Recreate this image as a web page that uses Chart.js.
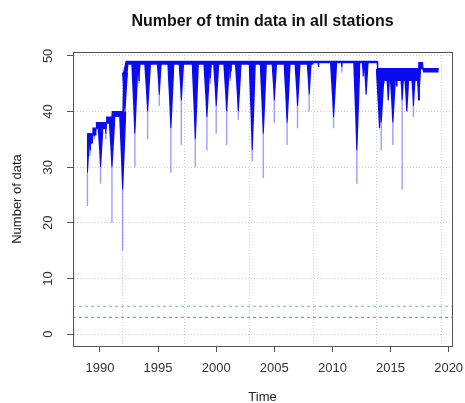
<!DOCTYPE html>
<html>
<head>
<meta charset="utf-8">
<script src="https://cdn.jsdelivr.net/npm/chart.js@4"></script>
<style>
  html, body { margin: 0; padding: 0; background: #fff; }
  #wrap { width: 465px; height: 403px; }
</style>
</head>
<body>
<div id="wrap"><canvas id="chart"></canvas></div>
<script>
// axis ticks and grid positions
const xTickYears = [1990, 1995, 2000, 2005, 2010, 2015, 2020];
const yTickValues = [0, 10, 20, 30, 40, 50];
const gridYears = [1991.95, 1997.3, 2002.85, 2008.4, 2013.8, 2019.4];

// upper level of the station count and bottom of the dense band under it
const levelYears = [1988.88, 1989.38, 1989.4, 1989.68, 1989.7, 1990.55, 1990.58, 1991.03, 1991.06, 1991.98,
                    1992.04, 1992.25, 1992.45, 2008.3, 2008.4, 2013.85, 2013.88, 2013.92, 2017.4, 2017.44,
                    2017.75, 2017.8, 2019.15];
const levelTop = [36, 36, 37, 37, 38, 38, 39, 39, 40, 40,
                  47, 49, 49, 49, 49, 49, 49, 47.7, 47.7, 48.8,
                  48.8, 47.7, 47.7];
const levelFloor = [33.8, 34.3, 35.7, 35.7, 36.8, 36.8, 37.8, 37.8, 39, 39,
                    39.5, 44, 48.4, 48.4, 48.7, 48.7, 47, 45.5, 45.5, 47.6,
                    47.6, 47, 47];

// drops in the count: where the solid part ends and the lowest value reached
const dipYears = [1988.92, 1989.15, 1989.5, 1990.05, 1990.5, 1991.03, 1991.95, 1992.15, 1993.0, 1993.35,
                  1994.1, 1995.1, 1996.1, 1997.0, 1998.2, 1999.2, 1999.5, 2000.0, 2000.9, 2001.2,
                  2001.9, 2003.1, 2004.05, 2005.0, 2006.1, 2007.0, 2008.0, 2008.8, 2010.1, 2010.8,
                  2012.1, 2012.65, 2012.9, 2014.05, 2014.2, 2014.4, 2014.8, 2015.2, 2015.53, 2016.0,
                  2016.4, 2016.97, 2017.42];
const dipDark = [29, 33, 35.5, 30, 36, 30, 26, 40, 36, 45.5,
                 40, 43, 37, 42, 35, 39, 46, 41, 40, 46,
                 40, 33, 36, 42, 38, 41, 43, 48, 39, 48,
                 33, 46.3, 43, 37, 38, 45, 42, 38, 44.5, 42,
                 40, 41, 42];
const dipLow = [23, 32, 35, 27, 35, 20, 15, 38, 30, 45,
                35, 41, 29, 34, 30, 33, 45, 36, 34, 45.5,
                38.5, 31, 28, 38, 34, 37, 40, 48, 37, 47,
                27, 46.3, 43, 37, 33, 45, 42, 34, 44.5, 26,
                40, 39, 42];

// minimum number of stations lines
const thresholdValues = [5, 3];
const thresholdColors = ['rgba(70,205,70,0.85)', 'rgba(232,60,60,0.85)'];

const X_MIN = 1987.68, X_MAX = 2020.29;
const Y_MIN = -2.15, Y_MAX = 50.7;
const DARK = '#0b0bf0';
const LIGHT = 'rgba(60,60,255,0.5)';

function levelAt(t) {
    let v = levelTop[0];
    for (let i = 0; i < levelYears.length; i++) {
        if (levelYears[i] <= t) v = levelTop[i];
    }
    return v;
}

const datasets = [];
datasets.push({
    data: levelYears.map((t, i) => ({ x: t, y: levelTop[i] })),
    borderColor: DARK, borderWidth: 1.2, fill: false
});
datasets.push({
    data: levelYears.map((t, i) => ({ x: t, y: levelFloor[i] })),
    borderColor: 'transparent', borderWidth: 0, backgroundColor: DARK, fill: '-1'
});
// the solid funnel under the level at each drop
dipYears.forEach((t, i) => {
    const top = levelAt(t), d = dipDark[i], depth = top - d;
    const hw = Math.min(0.32, 0.08 + depth * 0.025);
    const mid = top - depth * 0.6;
    datasets.push({
        data: [
            { x: Math.max(t - hw, levelYears[0]), y: top },
            { x: t - hw * 0.45, y: mid },
            { x: t - 0.05, y: d },
            { x: t + 0.05, y: d },
            { x: t + hw * 0.5, y: mid },
            { x: t + hw, y: top }
        ],
        borderColor: 'transparent', borderWidth: 0, backgroundColor: DARK, fill: { value: top }
    });
});
// thin tail of each drop down to its lowest value
const tails = [];
dipYears.forEach((t, i) => {
    if (dipLow[i] < dipDark[i]) {
        tails.push({ x: t, y: dipDark[i] }, { x: t, y: dipLow[i] }, { x: t, y: null });
    }
});
datasets.push({ data: tails, borderColor: LIGHT, borderWidth: 1.4, fill: false, spanGaps: false });
thresholdValues.forEach((v, i) => {
    datasets.push({
        data: [{ x: X_MIN, y: v }, { x: X_MAX, y: v }],
        borderColor: thresholdColors[i], borderWidth: 1, borderDash: [3, 3], fill: false
    });
});

const FONT = '"Liberation Sans", Arial, sans-serif';

const decor = {
    id: 'decor',
    afterDraw(chart) {
        const { ctx, chartArea: a, scales: { x, y } } = chart;
        ctx.save();
        ctx.strokeStyle = '#555';
        ctx.lineWidth = 1;
        ctx.strokeRect(Math.round(a.left) + 0.5, Math.round(a.top) + 0.5,
            Math.round(a.right - a.left), Math.round(a.bottom - a.top));

        ctx.fillStyle = '#333';
        ctx.font = '13px ' + FONT;
        ctx.textAlign = 'center';
        ctx.textBaseline = 'middle';
        xTickYears.forEach(v => {
            ctx.fillText(String(v), x.getPixelForValue(v), a.bottom + 22);
        });
        yTickValues.forEach(v => {
            ctx.save();
            ctx.translate(48, y.getPixelForValue(v));
            ctx.rotate(-Math.PI / 2);
            ctx.fillText(String(v), 0, 0);
            ctx.restore();
        });

        const cx = (a.left + a.right) / 2;
        ctx.fillStyle = '#111';
        ctx.font = 'bold 16px ' + FONT;
        ctx.fillText('Number of tmin data in all stations', cx, 22);

        ctx.fillStyle = '#222';
        ctx.font = '13px ' + FONT;
        ctx.fillText('Time', cx, 397);
        ctx.save();
        ctx.translate(17, (a.top + a.bottom) / 2);
        ctx.rotate(-Math.PI / 2);
        ctx.fillText('Number of data', 0, 0);
        ctx.restore();
        ctx.restore();
    }
};

new Chart(document.getElementById('chart'), {
    type: 'line',
    data: { datasets },
    plugins: [decor],
    options: {
        responsive: true,
        maintainAspectRatio: false,
        animation: false,
        devicePixelRatio: 1,
        layout: { padding: { left: 67, right: 13, top: 52, bottom: 51 } },
        elements: { point: { radius: 0 }, line: { tension: 0 } },
        plugins: { legend: { display: false }, tooltip: { enabled: false } },
        scales: {
            x: {
                type: 'linear', min: X_MIN, max: X_MAX,
                afterBuildTicks: s => { s.ticks = xTickYears.map(v => ({ value: v })); },
                ticks: { display: false },
                grid: { drawOnChartArea: false, drawTicks: true, tickLength: 6, tickColor: '#555', tickBorderDash: [] },
                border: { display: true, color: '#555' }
            },
            xg: {
                type: 'linear', position: 'bottom', min: X_MIN, max: X_MAX,
                afterBuildTicks: s => { s.ticks = gridYears.map(v => ({ value: v })); },
                ticks: { display: false },
                grid: { drawTicks: false, color: '#cfcfcf' },
                border: { display: false, dash: [1, 2] }
            },
            y: {
                type: 'linear', min: Y_MIN, max: Y_MAX,
                afterBuildTicks: s => { s.ticks = yTickValues.map(v => ({ value: v })); },
                ticks: { display: false },
                grid: { color: '#cfcfcf', drawTicks: true, tickLength: 6, tickColor: '#555', tickBorderDash: [] },
                border: { display: true, color: '#555', dash: [1, 2] }
            }
        }
    }
});
</script>
</body>
</html>
